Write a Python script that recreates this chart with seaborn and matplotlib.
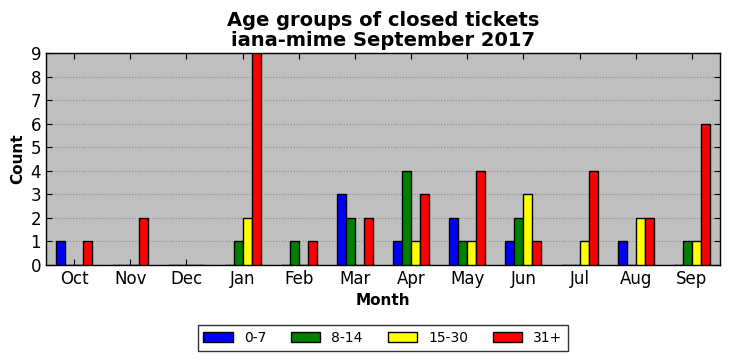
import numpy as np
import pandas as pd
import matplotlib
matplotlib.use('Agg')
import matplotlib.pyplot as plt
import seaborn as sns

months = ['Oct', 'Nov', 'Dec', 'Jan', 'Feb', 'Mar', 'Apr', 'May', 'Jun', 'Jul', 'Aug', 'Sep']
groups = ['0-7', '8-14', '15-30', '31+']
age_0_7 = [1, 0, 0, 0, 0, 3, 1, 2, 1, 0, 1, 0]
age_8_14 = [0, 0, 0, 1, 1, 2, 4, 1, 2, 0, 0, 1]
age_15_30 = [0, 0, 0, 2, 0, 0, 1, 1, 3, 1, 2, 1]
age_31 = [1, 2, 0, 9, 1, 2, 3, 4, 1, 4, 2, 6]
colors = ['blue', 'green', 'yellow', 'red']

rows = []
for g, vals in zip(groups, [age_0_7, age_8_14, age_15_30, age_31]):
    for m, v in zip(months, vals):
        rows.append({'Month': m, 'Group': g, 'Count': v})
df = pd.DataFrame(rows)

plt.rcParams['font.family'] = ['DejaVu Sans']
fig = plt.figure(figsize=(7.31, 3.61), dpi=100)
ax = fig.add_axes([46/731, 1-265/361, 674/731, 212/361])
ax.set_facecolor('#bfbfbf')

sns.barplot(data=df, x='Month', y='Count', hue='Group', order=months, hue_order=groups,
            palette=colors, width=0.64, edgecolor='black', linewidth=1, saturation=1,
            ax=ax, legend=False, zorder=3)

ax.set_xlim(-0.5, 11.5)
ax.set_ylim(0, 9)
ax.set_yticks(range(10))
ax.yaxis.grid(True, linestyle=':', color='#8c8c8c', linewidth=0.8, zorder=0)
ax.set_axisbelow(True)
ax.tick_params(direction='in', top=True, right=True, length=4, labelsize=12)
for s in ax.spines.values():
    s.set_linewidth(1)
ax.set_xlabel('Month', fontsize=11, fontweight='bold')
ax.set_ylabel('Count', fontsize=11, fontweight='bold')
ax.set_title('Age groups of closed tickets\niana-mime September 2017', fontsize=14,
             fontweight='bold', linespacing=1.1, pad=5)

handles = [plt.Rectangle((0, 0), 1, 1, facecolor=c, edgecolor='black') for c in colors]
leg = fig.legend(handles, groups, loc='center', bbox_to_anchor=(383/731, 1-338/361),
                 ncol=4, fontsize=10, frameon=True, fancybox=False, edgecolor='black',
                 columnspacing=1.8, handlelength=2.1, handleheight=0.8, handletextpad=0.8,
                 borderpad=0.4)
leg.get_frame().set_linewidth(1)

fig.savefig('out.png', dpi=100)
